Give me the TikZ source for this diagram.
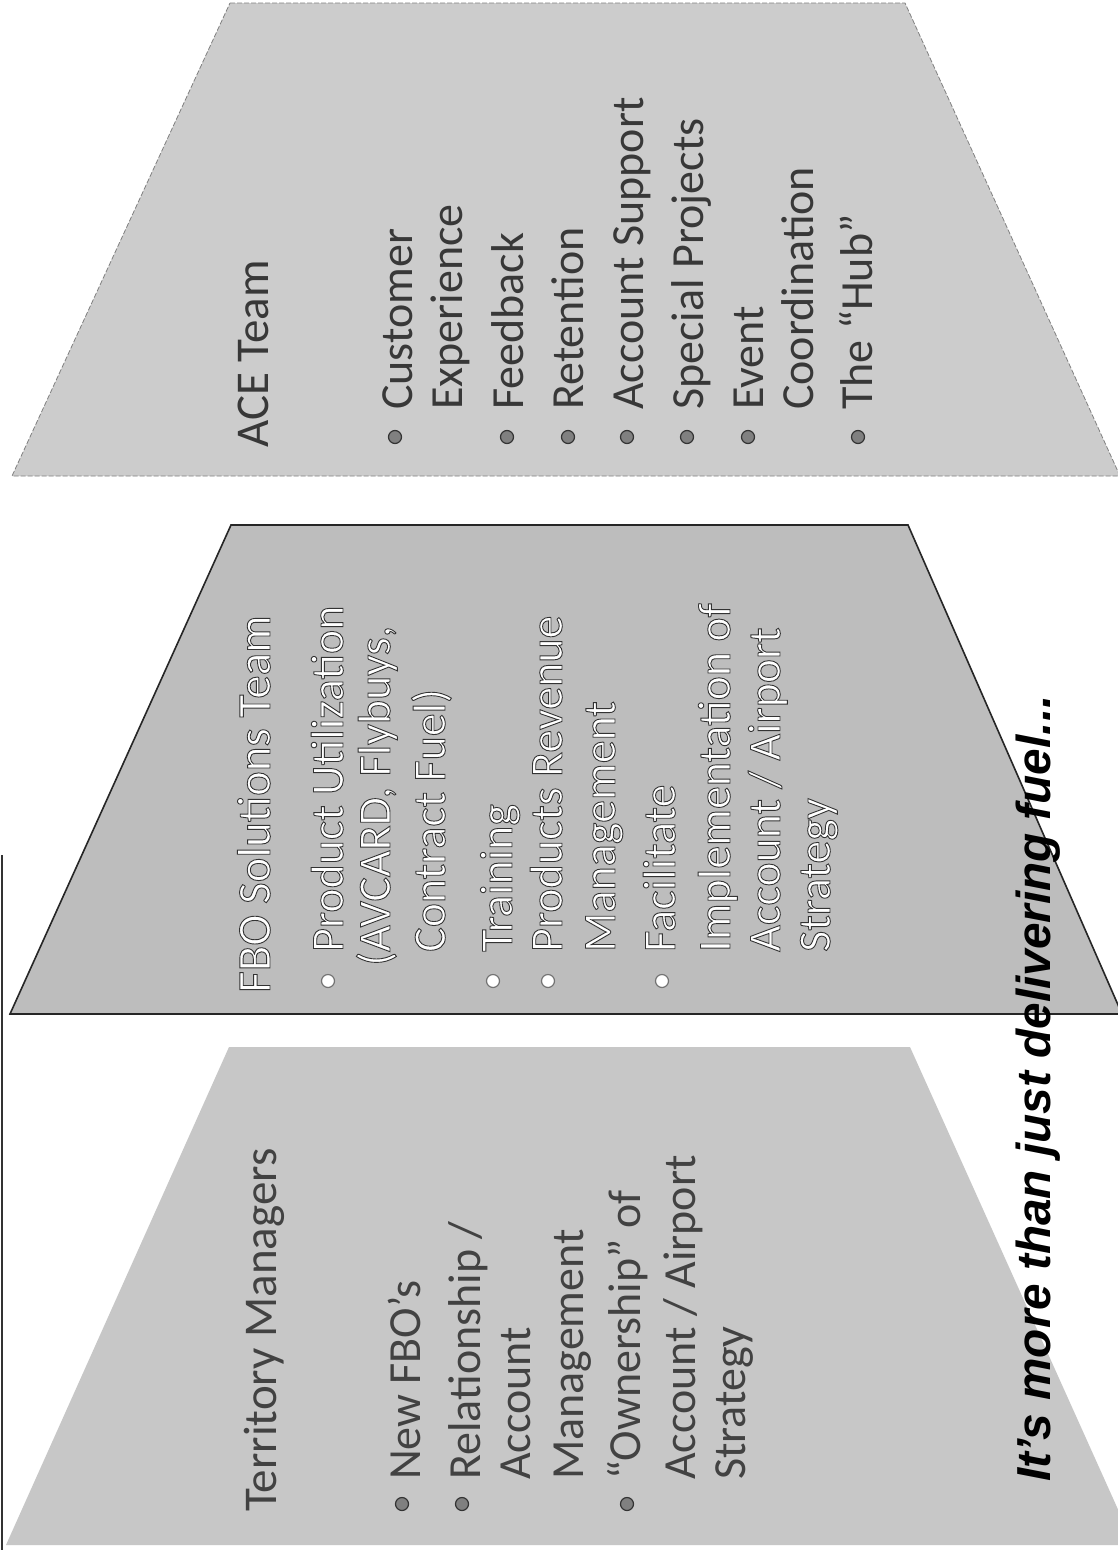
\documentclass[tikz,border=0pt]{standalone}
\usepackage{fontspec}
\setmainfont{Carlito}
\newfontfamily\tagfont{Liberation Sans}
\definecolor{acegray}{gray}{0.80}
\definecolor{fbogray}{gray}{0.74}
\definecolor{tmgray}{gray}{0.78}
\definecolor{acetext}{gray}{0.22}
\definecolor{tmtext}{gray}{0.26}
\tikzset{ pn/.style = { line width = 0.8pt % panel
        , draw = none
        }
        , bul/.style = { circle % bullet
        , inner sep = 0pt
        , minimum size = 13pt
        , line width = 1.2pt
        , draw = black!80
        , fill = black!50
        }
        , wbul/.style = { bul % white bullet
        , draw = black!55
        , fill = white
        }
        }

\begin{document}
\begin{tikzpicture}[x=1pt, y=-1pt,
        title_style/.style={rotate=90, anchor=base west, inner sep=0pt, font=\fontsize{47}{50}\selectfont},
        item_style/.style={rotate=90, anchor=base west, inner sep=0pt, font=\fontsize{46}{50}\selectfont},
        ace_style/.style={text=acetext},
        tm_style/.style={text=tmtext},
        fbo_style/.style={
            execute at begin node={\special{pdf:literal direct 1 g 0.2 G 0.9 w 2 Tr}},
            execute at end node={\special{pdf:literal direct 0 Tr 0 g 0 G}}},
        tag_style/.style={rotate=90, anchor=base west, inner sep=0pt, text=black,
            font=\tagfont\bfseries\itshape\fontsize{47.7}{50}\selectfont}]
        \fill[white] (0,0) rectangle (1118,1550);
        \useasboundingbox (0,0) rectangle (1118,1550);

        % panels
        \draw [pn, fill=acegray, draw=black!50, dash pattern=on 5pt off 2pt] (230,3) -- (905,3) -- (1120,476) -- (12,476) -- cycle;
        \draw [pn, fill=fbogray, draw=black!85, line width=1.6pt] (231,525) -- (908,525) -- (1122,1014) -- (10,1014) -- cycle;
        \fill [tmgray] (229,1047) -- (910,1047) -- (1134,1545) -- (6,1545) -- cycle;
        \draw [line width=1.2pt, black!80] (2,855) -- (2,1550);

        % ACE Team
        \node [title_style,ace_style] (a0) at (268,448) {ACE Team};
        \node [item_style,ace_style] (a1) at (412,410) {Customer};
        \node [item_style,ace_style] (a2) at (462,410) {Experience};
        \node [item_style,ace_style] (a3) at (523,410) {Feedback};
        \node [item_style,ace_style] (a4) at (583,410) {Retention};
        \node [item_style,ace_style] (a5) at (643,410) {Account Support};
        \node [item_style,ace_style] (a6) at (703,410) {Special Projects};
        \node [item_style,ace_style] (a7) at (763,410) {Event};
        \node [item_style,ace_style] (a8) at (813,410) {Coordination};
        \node [item_style,ace_style] (a9) at (872,410) {The “Hub”};
        \foreach \bx/\bn in {395/1, 507/3, 568/4, 627/5, 687/6, 748/7, 858/9}
            \node [bul] (ab\bn) at (\bx,437) {};

        % FBO Solutions Team
        \node [title_style,fbo_style] (f0) at (270,993) {FBO Solutions Team};
        \node [item_style,fbo_style] (f1) at (343,952) {Product Utilization};
        \node [item_style,fbo_style] (f2) at (390,966) {(AVCARD, Flybuys,};
        \node [item_style,fbo_style] (f3) at (445,952) {Contract Fuel)};
        \node [item_style,fbo_style] (f4) at (512,952) {Training};
        \node [item_style,fbo_style] (f5) at (562,952) {Products Revenue};
        \node [item_style,fbo_style] (f6) at (615,952) {Management};
        \node [item_style,fbo_style] (f7) at (675,952) {Facilitate};
        \node [item_style,fbo_style] (f8) at (730,952) {Implementation of};
        \node [item_style,fbo_style] (f9) at (780,952) {Account / Airport};
        \node [item_style,fbo_style] (f10) at (830,952) {Strategy};
        \foreach \bx/\bn in {328/1, 493/4, 548/5, 662/7}
            \node [wbul] (fb\bn) at (\bx,981) {};

        % Territory Managers
        \node [title_style,tm_style] (t0) at (276,1512) {Territory Managers};
        \node [item_style,tm_style] (t1) at (420,1480) {New FBO’s};
        \node [item_style,tm_style] (t2) at (480,1480) {Relationship /};
        \node [item_style,tm_style] (t3) at (530,1480) {Account};
        \node [item_style,tm_style] (t4) at (583,1480) {Management};
        \node [item_style,tm_style] (t5) at (640,1480) {“Ownership” of};
        \node [item_style,tm_style] (t6) at (695,1480) {Account / Airport};
        \node [item_style,tm_style] (t7) at (745,1480) {Strategy};
        \foreach \bx/\bn in {402/1, 462/2, 627/5}
            \node [bul] (tb\bn) at (\bx,1504) {};

        \node [tag_style] (tag) at (1050,1482) {It’s more than just delivering fuel...};
\end{tikzpicture}
\end{document}
